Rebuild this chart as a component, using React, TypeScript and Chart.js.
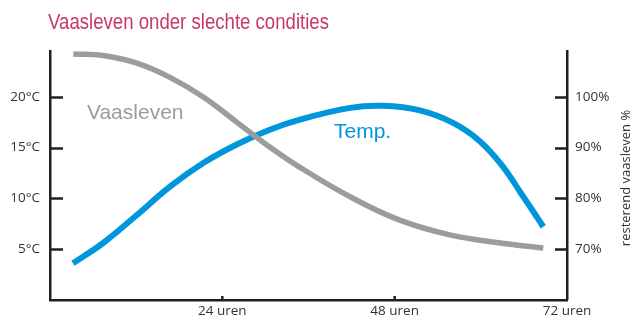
import React, { useEffect, useRef } from "react";
import { Chart, registerables } from "chart.js";

Chart.register(...registerables);

// ---- data ----
const chartTitle = "Vaasleven onder slechte condities";
const rightAxisTitle = "resterend vaasleven %";
const lifeLabel = "Vaasleven";
const tempLabel = "Temp.";

const hoursLife = [3.25, 7.4, 12.1, 16.7, 21.4, 26.0, 30.6, 34.8, 41.8, 48.7, 55.7, 62.7, 68.7];
const lifePct = [108.4, 108.1, 106.6, 103.8, 99.9, 95.0, 90.1, 86.1, 80.3, 75.7, 72.8, 71.2, 70.2];

const hoursTemp = [3.2, 7.4, 12.1, 16.7, 21.4, 26.0, 30.6, 34.8, 41.8, 46.4, 51.5, 56.2, 59.9, 63.1, 65.5, 67.3, 68.7];
const tempC = [3.6, 5.6, 8.35, 11.15, 13.5, 15.3, 16.75, 17.75, 18.9, 19.1, 18.65, 17.4, 15.6, 13.1, 10.6, 8.7, 7.2];

const hourTicks = [24, 48, 72];
const tempTicks = [5, 10, 15, 20];
const pctTicks = [70, 80, 90, 100];

// label anchors (data coordinates)
const lifeLabelAt = { x: 5.15, y: 95.6 };
const tempLabelAt = { x: 39.55, y: 15.9 };

const AXIS = "#231f20";
const GRAY = "#9a9d9d";
const BLUE = "#0096db";
const TITLE = "#c7386a";
const TICKFONT = "'Open Sans', 'Liberation Sans', sans-serif";

const decorPlugin = {
  id: "decor",
  afterDraw(chart: any) {
    const ctx = chart.ctx;
    const xs = chart.scales.x;
    const yl = chart.scales.yTemp;
    const yr = chart.scales.yLife;
    const area = chart.chartArea;
    ctx.save();
    // inward ticks
    ctx.strokeStyle = AXIS;
    ctx.lineWidth = 2.5;
    ctx.beginPath();
    tempTicks.forEach((v) => {
      const y = Math.round(yl.getPixelForValue(v)) + 0.5;
      ctx.moveTo(area.left, y);
      ctx.lineTo(area.left + 13, y);
    });
    pctTicks.forEach((v) => {
      const y = Math.round(yr.getPixelForValue(v)) + 0.5;
      ctx.moveTo(area.right, y);
      ctx.lineTo(area.right - 12, y);
    });
    hourTicks.forEach((v) => {
      if (v >= 72) return;
      const x = xs.getPixelForValue(v);
      ctx.moveTo(x, area.bottom);
      ctx.lineTo(x, area.bottom - 4);
    });
    ctx.stroke();

    // title (condensed look)
    ctx.fillStyle = TITLE;
    ctx.font = "22px 'Liberation Sans Narrow', 'Liberation Sans', sans-serif";
    ctx.textBaseline = "alphabetic";
    ctx.textAlign = "left";
    const w = ctx.measureText(chartTitle).width;
    ctx.save();
    ctx.translate(48, 29);
    ctx.scale(281 / w, 1);
    ctx.fillText(chartTitle, 0, 0);
    ctx.restore();

    // series labels
    ctx.font = "21px 'Liberation Sans', sans-serif";
    ctx.fillStyle = GRAY;
    ctx.fillText(lifeLabel, xs.getPixelForValue(lifeLabelAt.x), yr.getPixelForValue(lifeLabelAt.y));
    ctx.fillStyle = BLUE;
    ctx.fillText(tempLabel, xs.getPixelForValue(tempLabelAt.x), yl.getPixelForValue(tempLabelAt.y));

    // right axis title, reading bottom to top
    ctx.fillStyle = "#333";
    ctx.font = "13px " + TICKFONT;
    ctx.textAlign = "center";
    ctx.textBaseline = "middle";
    ctx.translate(626, 178);
    ctx.rotate(-Math.PI / 2);
    ctx.fillText(rightAxisTitle, 0, 0);
    ctx.restore();
  },
};

export default function App() {
  const ref = useRef<HTMLCanvasElement>(null);
  useEffect(() => {
    if (!ref.current) return;
    const chart = new Chart(ref.current, {
      type: "line",
      data: {
        datasets: [
          {
            label: lifeLabel,
            data: hoursLife.map((h, i) => ({ x: h, y: lifePct[i] })),
            yAxisID: "yLife",
            borderColor: GRAY,
            borderWidth: 5.5,
            pointRadius: 0,
            tension: 0.4,
            borderCapStyle: "butt",
            borderJoinStyle: "round",
          },
          {
            label: tempLabel,
            data: hoursTemp.map((h, i) => ({ x: h, y: tempC[i] })),
            yAxisID: "yTemp",
            borderColor: BLUE,
            borderWidth: 6,
            pointRadius: 0,
            tension: 0.4,
            borderCapStyle: "butt",
            borderJoinStyle: "round",
          },
        ],
      },
      options: {
        responsive: false,
        animation: false,
        layout: { padding: { top: 51, left: 0, right: 0, bottom: 0 } },
        plugins: { legend: { display: false }, tooltip: { enabled: false }, title: { display: false } },
        scales: {
          x: {
            type: "linear",
            min: 0,
            max: 72,
            afterFit: (s: any) => { s.height = 18; },
            grid: { display: true, drawOnChartArea: false, drawTicks: false },
            border: { color: AXIS, width: 2.5 },
            ticks: {
              stepSize: 24,
              autoSkip: false,
              maxRotation: 0,
              includeBounds: false,
              padding: 3,
              color: "#333",
              font: { family: TICKFONT, size: 13.5 },
              callback: (v: any) => (hourTicks.includes(v) ? `${v} uren` : ""),
            },
          },
          yTemp: {
            type: "linear",
            position: "left",
            min: 0,
            max: 24.5,
            afterFit: (s: any) => { s.width = 50; },
            grid: { display: true, drawOnChartArea: false, drawTicks: false },
            border: { color: AXIS, width: 2.5 },
            ticks: {
              stepSize: 5,
              includeBounds: false,
              padding: 10,
              color: "#333",
              font: { family: TICKFONT, size: 13.5 },
              callback: (v: any) => (tempTicks.includes(v) ? `${v}°C` : ""),
            },
          },
          yLife: {
            type: "linear",
            position: "right",
            min: 60,
            max: 109,
            afterFit: (s: any) => { s.width = 66; },
            grid: { display: true, drawOnChartArea: false, drawTicks: false },
            border: { color: AXIS, width: 2.5 },
            ticks: {
              stepSize: 10,
              includeBounds: false,
              padding: 8,
              color: "#333",
              font: { family: TICKFONT, size: 13.5 },
              callback: (v: any) => (pctTicks.includes(v) ? `${v}%` : ""),
            },
          },
        },
      },
      plugins: [decorPlugin],
    } as any);
    return () => chart.destroy();
  }, []);
  return (
    <div style={{ position: "absolute", left: 0, top: 0, width: 633, height: 318, background: "#fff" }}>
      <canvas ref={ref} width={633} height={318} style={{ display: "block" }} />
    </div>
  );
}
